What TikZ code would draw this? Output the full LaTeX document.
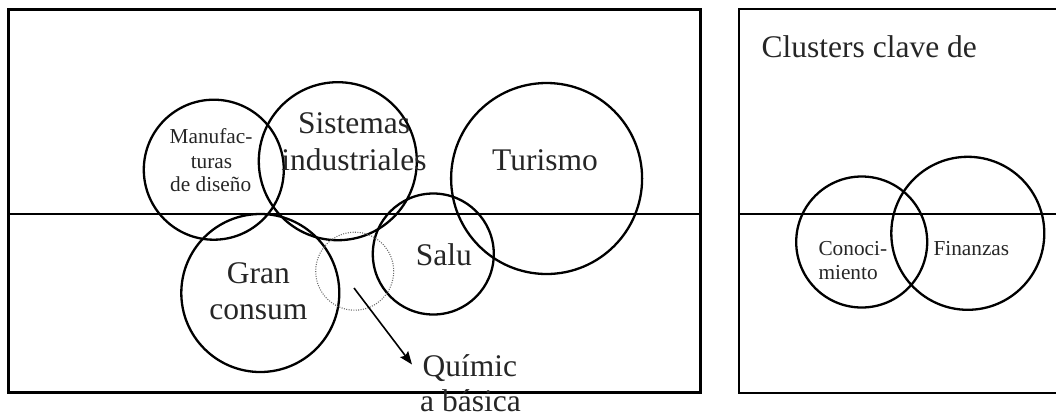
\documentclass[tikz,border=0pt]{standalone}
\usepackage{fontspec}
\setmainfont{Liberation Serif}
\usetikzlibrary{arrows.meta}
\begin{document}
\begin{tikzpicture}[x=1pt,y=-1pt,
  cluster/.style={circle,draw,line width=2.3pt,inner sep=0pt,minimum size=#1},
  bigtext/.style={font=\fontsize{31.5}{36}\selectfont,text=black!85,inner sep=0pt,anchor=base},
  smalltext/.style={font=\fontsize{21.3}{24}\selectfont,text=black!85,inner sep=0pt,anchor=base},
  framebox/.style={draw,line width=3pt},
  divider/.style={draw,line width=2pt}]
\useasboundingbox (0,0) rectangle (1056,418);

% left panel
\draw[framebox] (8.7,9.3) rectangle (700,392.7);
\draw[divider] (8.7,213.8) -- (700,213.8);

% right panel (open on the right)
\draw[divider] (1058,9.3) -- (739,9.3) -- (739,392.7) -- (1058,392.7);
\draw[divider] (739,213.8) -- (1058,213.8);

% clusters of the left panel
\node[cluster=140pt] (manuf) at (213.8,169.7) {};
\node[cluster=158pt] (sist) at (337.8,161.2) {};
\node[cluster=191pt] (tur) at (546.6,178.5) {};
\node[cluster=121pt] (salu) at (433.3,254) {};
\node[cluster=158pt] (gran) at (260.3,293) {};
\node[circle,draw=gray!85!black,line width=1.1pt,dash pattern=on 1pt off 1.4pt,inner sep=0pt,minimum size=78pt] (quim) at (354.7,271.2) {};

% clusters of the right panel
\node[cluster=131pt] (conoc) at (861.7,242) {};
\node[cluster=153pt] (fin) at (967.8,233.3) {};

% labels
\node[smalltext] (manufA) at (211,143.3) {Manufac-};
\node[smalltext] (manufB) at (211.5,168.3) {turas};
\node[smalltext] (manufC) at (210.7,191) {de diseño};
\node[bigtext] (sistA) at (354,133.3) {Sistemas};
\node[bigtext] (sistB) at (354,170) {industriales};
\node[bigtext] (turL) at (545,170) {Turismo};
\node[bigtext] (saluL) at (443.8,265) {Salu};
\node[bigtext] (granA) at (258.3,283.3) {Gran};
\node[bigtext] (granB) at (258.3,319.3) {consum};
\node[bigtext,anchor=base west] (quimA) at (422.5,376.7) {Químic};
\node[bigtext,anchor=base west] (quimB) at (420,411.7) {a básica};
\node[bigtext,anchor=base west] (title) at (761.5,57.3) {Clusters clave de};
\node[smalltext,anchor=base west] (conocA) at (818.3,255) {Conoci-};
\node[smalltext,anchor=base west] (conocB) at (818.3,279.3) {miento};
\node[smalltext,anchor=base west] (finL) at (933.3,255) {Finanzas};

% pointer from the dotted cluster to its label
\coordinate (qsrc) at (354,288);
\coordinate (qtip) at (412,364.5);
\draw[line width=1.6pt,-{Stealth[length=13pt,width=10pt,inset=2pt]}] (qsrc) -- (qtip);
\end{tikzpicture}
\end{document}
